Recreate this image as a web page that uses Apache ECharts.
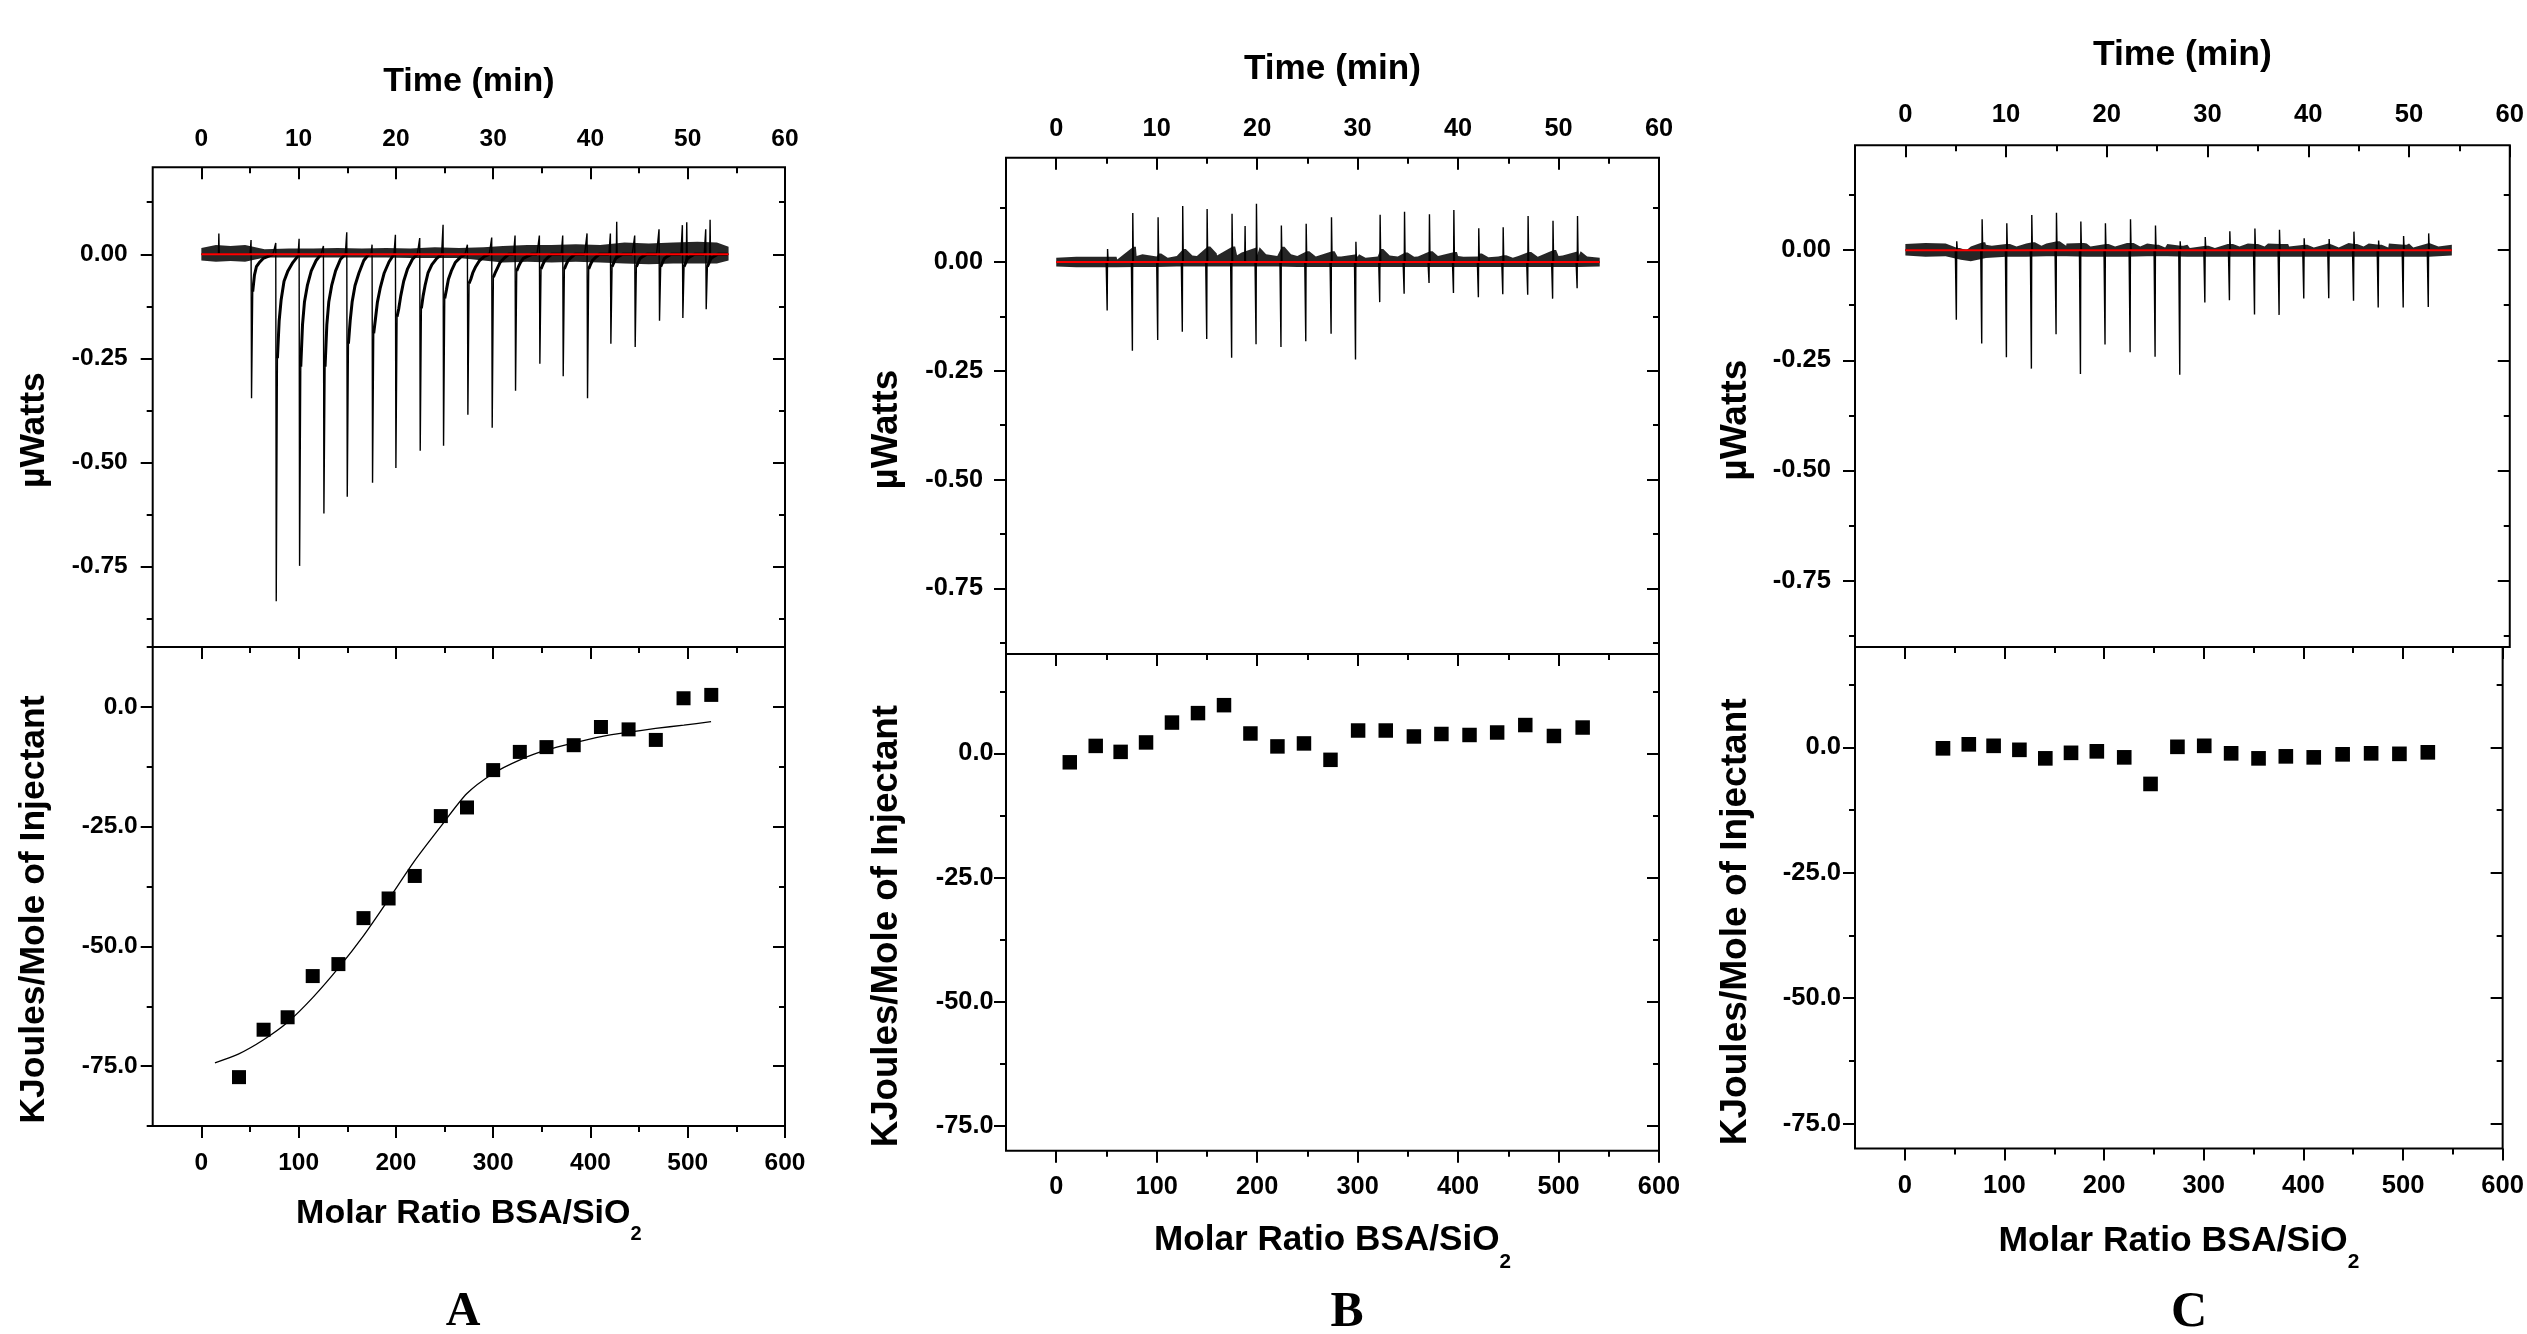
<!DOCTYPE html>
<html><head><meta charset="utf-8">
<script src="https://cdn.jsdelivr.net/npm/echarts@6/dist/echarts.min.js"></script>
<style>html,body{margin:0;padding:0;background:#fff}#c{width:2527px;height:1334px}</style>
</head><body><div id="c"></div>
<script>
// ---------------- tick labels ----------------
const timeTicks = [0, 10, 20, 30, 40, 50, 60];
const timeMinorTicks = [5, 15, 25, 35, 45, 55];
const ratioTicks = [0, 100, 200, 300, 400, 500, 600];
const ratioMinorTicks = [50, 150, 250, 350, 450, 550];
const powerTicks = [-0.75, -0.5, -0.25, 0];
const powerMinorTicks = [-0.875, -0.625, -0.375, -0.125, 0.125];
const heatTicks = [-75, -50, -25, 0];
const heatMinorTicks = [-87.5, -62.5, -37.5, -12.5, 12.5];

// ---------------- panel A : raw thermogram ----------------
const injTimeA = [5.16, 7.7, 10.1, 12.6, 15.0, 17.6, 20.0, 22.5, 24.9, 27.4, 29.9, 32.3, 34.8, 37.2, 39.7, 42.1, 44.6, 47.1, 49.5, 51.9];
const peakMinA = [-0.346, -0.834, -0.749, -0.623, -0.583, -0.549, -0.514, -0.472, -0.460, -0.386, -0.417, -0.328, -0.263, -0.293, -0.346, -0.215, -0.223, -0.160, -0.153, -0.132];
const preBlipA = [0.034, 0.027, 0.037, 0.02, 0.053, 0.023, 0.047, 0.039, 0.071, 0.023, 0.04, 0.045, 0.045, 0.045, 0.05, 0.05, 0.045, 0.06, 0.07, 0.06];
const tailOffsetA = [0.12, 0.3, 0.5, 0.8, 1.2, 1.7, 2.2];
const tailA = [
  [-0.09, -0.05, -0.03, -0.02, -0.01, -0.005, 0],
  [-0.25, -0.16, -0.11, -0.065, -0.04, -0.02, -0.005],
  [-0.27, -0.17, -0.115, -0.075, -0.04, -0.015, 0],
  [-0.27, -0.17, -0.115, -0.075, -0.04, -0.012, 0],
  [-0.215, -0.16, -0.115, -0.075, -0.045, -0.015, 0],
  [-0.19, -0.155, -0.115, -0.08, -0.045, -0.018, 0],
  [-0.15, -0.13, -0.1, -0.065, -0.035, -0.012, 0],
  [-0.13, -0.1, -0.075, -0.045, -0.025, -0.01, 0],
  [-0.106, -0.085, -0.06, -0.04, -0.02, -0.008, 0],
  [-0.07, -0.06, -0.045, -0.03, -0.015, -0.005, 0],
  [-0.055, -0.045, -0.035, -0.02, -0.01, 0, 0],
  [-0.04, -0.03, -0.02, -0.01, -0.005, 0, 0],
  [-0.035, -0.025, -0.015, -0.008, 0, 0, 0],
  [-0.035, -0.025, -0.015, -0.008, 0, 0, 0],
  [-0.035, -0.025, -0.015, -0.008, 0, 0, 0],
  [-0.03, -0.02, -0.01, -0.005, 0, 0, 0],
  [-0.03, -0.02, -0.01, -0.005, 0, 0, 0],
  [-0.03, -0.02, -0.01, -0.005, 0, 0, 0],
  [-0.03, -0.02, -0.01, -0.005, 0, 0, 0],
  [-0.03, -0.02, -0.01, -0.005, 0, 0, 0]
];
const extraPeaksA = [[1.8, 0.05], [42.7, 0.078], [49.9, 0.077], [52.3, 0.083]];
const traceEndA = 54.2;
const noiseTimeA = [0, 1.5, 3, 4.5, 6.5, 9, 11.5, 14, 16.5, 19, 21.5, 24, 26.5, 29, 31, 33.5, 36, 38.5, 41, 43.5, 46, 48.5, 51, 53, 54.2];
const noiseHiA = [0.015, 0.022, 0.02, 0.022, 0.012, 0.014, 0.014, 0.015, 0.014, 0.015, 0.014, 0.017, 0.015, 0.017, 0.02, 0.022, 0.022, 0.024, 0.022, 0.028, 0.026, 0.028, 0.03, 0.028, 0.018];
const noiseLoA = [-0.015, -0.018, -0.016, -0.018, -0.008, -0.008, -0.008, -0.008, -0.008, -0.008, -0.009, -0.009, -0.009, -0.015, -0.02, -0.018, -0.02, -0.018, -0.02, -0.022, -0.024, -0.022, -0.022, -0.022, -0.015];

// ---------------- panel B : raw thermogram ----------------
const injTimeB = [5.07, 7.58, 10.1, 12.55, 14.98, 17.46, 19.89, 22.37, 24.84, 27.36, 29.79, 32.2, 34.63, 37.11, 39.54, 42.02, 44.45, 46.93, 49.41, 51.85];
const peakMinB = [-0.111, -0.204, -0.179, -0.160, -0.177, -0.220, -0.189, -0.195, -0.182, -0.165, -0.224, -0.092, -0.073, -0.048, -0.071, -0.081, -0.074, -0.075, -0.084, -0.060];
const peakMaxB = [0.03, 0.113, 0.103, 0.129, 0.122, 0.111, 0.134, 0.084, 0.088, 0.103, 0.047, 0.109, 0.116, 0.110, 0.120, 0.078, 0.080, 0.106, 0.095, 0.106];
const humpB = [0.012, 0.035, 0.02, 0.03, 0.036, 0.036, 0.034, 0.035, 0.025, 0.025, 0.018, 0.03, 0.022, 0.025, 0.023, 0.02, 0.016, 0.023, 0.028, 0.025];
const humpTailB = [0.006, 0.018, 0.01, 0.015, 0.02, 0.022, 0.018, 0.018, 0.013, 0.013, 0.01, 0.015, 0.012, 0.013, 0.012, 0.011, 0.01, 0.012, 0.015, 0.013];
const extraPeaksB = [[18.8, 0.083]];
const traceEndB = 54.1;
const noiseTimeB = [0, 2, 4, 6, 8, 10, 12, 14, 16, 18, 20, 22, 24, 26, 28, 30, 32, 34, 36, 38, 40, 42, 44, 46, 48, 50, 52, 54.1];
const noiseHiB = [0.01, 0.012, 0.012, 0.012, 0.014, 0.013, 0.014, 0.014, 0.015, 0.016, 0.016, 0.014, 0.014, 0.013, 0.013, 0.012, 0.013, 0.013, 0.013, 0.014, 0.014, 0.013, 0.013, 0.014, 0.013, 0.014, 0.014, 0.01];
const noiseLoB = [-0.01, -0.012, -0.012, -0.012, -0.011, -0.011, -0.01, -0.01, -0.01, -0.01, -0.01, -0.01, -0.011, -0.011, -0.011, -0.011, -0.011, -0.011, -0.011, -0.011, -0.011, -0.011, -0.011, -0.011, -0.011, -0.011, -0.011, -0.01];

// ---------------- panel C : raw thermogram ----------------
const injTimeC = [5.06, 7.58, 10.03, 12.51, 14.96, 17.38, 19.82, 22.31, 24.79, 27.24, 29.73, 32.17, 34.66, 37.1, 39.55, 42.03, 44.49, 46.94, 49.42, 51.91];
const peakMinC = [-0.158, -0.212, -0.243, -0.269, -0.191, -0.281, -0.214, -0.232, -0.242, -0.283, -0.119, -0.114, -0.146, -0.147, -0.110, -0.109, -0.115, -0.130, -0.130, -0.129];
const peakMaxC = [0.02, 0.070, 0.061, 0.080, 0.085, 0.065, 0.061, 0.070, 0.056, 0.02, 0.03, 0.043, 0.049, 0.046, 0.027, 0.025, 0.042, 0.022, 0.032, 0.038];
const humpC = [0.005, 0.018, 0.014, 0.018, 0.02, 0.016, 0.014, 0.016, 0.012, 0.01, 0.01, 0.014, 0.014, 0.014, 0.012, 0.012, 0.014, 0.012, 0.012, 0.014];
const humpTailC = [0, 0.01, 0.008, 0.01, 0.01, 0.008, 0.008, 0.008, 0.006, 0.005, 0.005, 0.008, 0.008, 0.008, 0.006, 0.006, 0.008, 0.006, 0.006, 0.008];
const extraPeaksC = [];
const traceEndC = 54.25;
const noiseTimeC = [0, 2, 4, 5.5, 6.5, 8, 10, 12, 14, 16, 18, 20, 22, 24, 26, 28, 30, 32, 34, 36, 38, 40, 42, 44, 46, 48, 50, 52, 54.25];
const noiseHiC = [0.014, 0.016, 0.015, 0.008, 0.008, 0.012, 0.014, 0.015, 0.015, 0.015, 0.015, 0.015, 0.016, 0.015, 0.014, 0.012, 0.012, 0.014, 0.015, 0.015, 0.014, 0.014, 0.015, 0.016, 0.015, 0.015, 0.015, 0.016, 0.012];
const noiseLoC = [-0.012, -0.015, -0.014, -0.022, -0.025, -0.018, -0.015, -0.015, -0.014, -0.014, -0.015, -0.015, -0.015, -0.014, -0.014, -0.015, -0.015, -0.015, -0.015, -0.015, -0.015, -0.015, -0.015, -0.015, -0.015, -0.015, -0.015, -0.015, -0.012];

// ---------------- integrated heats ----------------
const ratioA = [38.7, 64.0, 88.7, 114.5, 140.9, 166.7, 192.5, 219.4, 246.2, 273.1, 300.0, 327.4, 354.8, 382.8, 410.8, 439.2, 467.2, 495.7, 524.2];
const heatA = [-77.3, -67.4, -64.8, -56.2, -53.7, -44.1, -40.0, -35.3, -22.8, -21.0, -13.2, -9.4, -8.4, -8.0, -4.2, -4.7, -6.9, 1.8, 2.5];
const fitRatioA = [14, 38, 64, 89, 114.5, 141, 167, 192.5, 219, 246, 273, 300, 327, 355, 383, 411, 439, 467, 496, 524];
const fitHeatA = [-74.3, -72.5, -69.5, -65.8, -60.7, -54.5, -47.7, -40.2, -32.2, -25.0, -18.1, -13.9, -11.1, -9.0, -7.5, -6.2, -5.3, -4.5, -3.8, -3.1];
const ratioB = [13.5, 39.3, 64.1, 89.4, 115.2, 141.1, 167.0, 193.3, 220.2, 246.6, 273.0, 300.5, 328.0, 356.0, 383.4, 411.4, 438.9, 466.9, 495.4, 524.0];
const heatB = [-1.8, 1.5, 0.3, 2.2, 6.2, 8.1, 9.7, 4.0, 1.4, 2.0, -1.3, 4.6, 4.6, 3.4, 3.9, 3.7, 4.2, 5.7, 3.5, 5.2];
const ratioC = [38.3, 64.2, 89.1, 115.0, 141.0, 166.8, 192.7, 220.2, 246.6, 273.6, 300.5, 327.5, 355.0, 382.4, 410.4, 439.4, 468.0, 496.4, 524.9];
const heatC = [-0.2, 0.6, 0.3, -0.5, -2.2, -1.1, -0.8, -2.0, -7.3, 0.1, 0.3, -1.2, -2.2, -1.8, -2.0, -1.4, -1.2, -1.3, -1.0];

// ---------------- build series data from the arrays ----------------
const byTime = (a, b) => a[0] - b[0];
const zip = (a, b) => a.map((v, i) => [v, b[i]]);
function spikesA() {
  const pts = [[0, 0]];
  injTimeA.forEach((t, i) => {
    pts.push([t - 0.15, 0], [t - 0.05, preBlipA[i]], [t, peakMinA[i]]);
    tailOffsetA.forEach((d, k) => pts.push([t + d, tailA[i][k]]));
  });
  extraPeaksA.forEach(p => pts.push([p[0] - 0.04, 0], p, [p[0] + 0.04, 0]));
  pts.push([traceEndA, 0]);
  return pts.sort(byTime);
}
function tailsA() {
  const pts = [];
  injTimeA.forEach((t, i) => {
    tailOffsetA.forEach((d, k) => pts.push([t + d, tailA[i][k]]));
    pts.push([t + 2.25, null]);
  });
  return pts;
}
function spikesBC(inj, mn, mx, extra, end) {
  const pts = [[0, 0]];
  inj.forEach((t, i) => pts.push([t - 0.1, 0], [t, mn[i]], [t + 0.04, mx[i]], [t + 0.1, 0]));
  extra.forEach(p => pts.push([p[0] - 0.04, 0], p, [p[0] + 0.04, 0]));
  pts.push([end, 0]);
  return pts.sort(byTime);
}
function upperBand(nt, nh, inj, hump, humpTail) {
  const pts = zip(nt, nh);
  if (inj) inj.forEach((t, i) => pts.push([t + 0.1, hump[i]], [t + 0.35, hump[i]], [t + 1.0, humpTail[i]]));
  return pts.sort(byTime);
}

const FONT = '"Liberation Sans", Arial, Helvetica, sans-serif';
const SERIF = '"Liberation Serif", "Times New Roman", serif';

const panels = [
  { L: {left: 152.7, width: 632.3, upTop: 167.3, upH: 479.7, loH: 479.0, upY: [-0.944, 0.209], loY: [-87.5, 12.5], s: 1.0,
        mUp: 25, mLo: 15, mTop: 15.3, mBot: 24.5, gTop: 68.8, gBot: 70.7, gY: 100, letter: 'A', lx: 463, ly: 1313},
    trace: spikesA(), tails: tailsA(), bandHi: upperBand(noiseTimeA, noiseHiA), bandLo: zip(noiseTimeA, noiseLoA), end: traceEndA,
    pts: zip(ratioA, heatA), fit: zip(fitRatioA, fitHeatA) },
  { L: {left: 1006, width: 653, upTop: 157.7, upH: 496.3, loH: 496.8, upY: [-0.901, 0.240], loY: [-80, 20], s: 1.034,
        mUp: 23, mLo: 12.5, mTop: 16.6, mBot: 23.6, gTop: 70.4, gBot: 72.1, gY: 101, letter: 'B', lx: 1347, ly: 1313},
    trace: spikesBC(injTimeB, peakMinB, peakMaxB, extraPeaksB, traceEndB), tails: null,
    bandHi: upperBand(noiseTimeB, noiseHiB, injTimeB, humpB, humpTailB), bandLo: zip(noiseTimeB, noiseLoB), end: traceEndB,
    pts: zip(ratioB, heatB), fit: null },
  { L: {left: 1855, width: 661.4, upTop: 145.3, upH: 501.7, loH: 501.6, upY: [-0.901, 0.238], loY: [-80, 20], s: 1.045,
        mUp: 24, mLo: 14, mTop: 17, mBot: 24.4, gTop: 72, gBot: 74.2, gY: 101, letter: 'C', lx: 2189, ly: 1313},
    trace: spikesBC(injTimeC, peakMinC, peakMaxC, extraPeaksC, traceEndC), tails: null,
    bandHi: upperBand(noiseTimeC, noiseHiC, injTimeC, humpC, humpTailC), bandLo: zip(noiseTimeC, noiseLoC), end: traceEndC,
    pts: zip(ratioC, heatC), fit: null }
];

const option = {animation: false, backgroundColor: '#ffffff', grid: [], xAxis: [], yAxis: [], series: [], graphic: []};
const base = {type: 'value', axisLine: {show: false, onZero: false}, splitLine: {show: false}, nameMoveOverlap: false};
function ax(arr, o) { arr.push(Object.assign({}, base, o)); return arr.length - 1; }
function tick(vals, inside, len) { return {show: true, customValues: vals, inside: inside, length: len, lineStyle: {color: '#000', width: 2}}; }

panels.forEach(P => {
  const L = P.L, s = L.s, fs = 24.5 * s;
  const lbl = (vals, margin, fmt) => ({show: true, customValues: vals, margin: margin, color: '#000', fontFamily: FONT, fontWeight: 'bold', fontSize: fs, formatter: fmt});
  const gU = option.grid.length;
  option.grid.push({left: L.left, top: L.upTop, width: L.width, height: L.upH, show: true, borderColor: '#000', borderWidth: 2, backgroundColor: 'rgba(0,0,0,0)'});
  const gL = gU + 1;
  option.grid.push({left: L.left, top: L.upTop + L.upH, width: L.width, height: L.loH, show: true, borderColor: '#000', borderWidth: 2, backgroundColor: 'rgba(0,0,0,0)'});
  const yName = (txt) => ({name: txt, nameLocation: 'middle', nameRotate: 90, nameGap: L.gY,
      nameTextStyle: {color: '#000', fontFamily: FONT, fontWeight: 'bold', fontSize: 35.5 * s, padding: [0, 46 * s, 0, 0]}});

  // ---- upper grid axes
  const xU = ax(option.xAxis, {gridIndex: gU, position: 'top', min: -5, max: 60, axisTick: tick(timeTicks, true, 12),
      axisLabel: lbl(timeTicks, L.mTop, v => String(v)),
      name: 'Time (min)', nameLocation: 'middle', nameGap: L.gTop,
      nameTextStyle: {color: '#000', fontFamily: FONT, fontWeight: 'bold', fontSize: 34 * s}});
  ax(option.xAxis, {gridIndex: gU, position: 'top', min: -5, max: 60, axisTick: tick(timeMinorTicks, true, 6), axisLabel: {show: false}});
  const yU = ax(option.yAxis, Object.assign({gridIndex: gU, position: 'left', min: L.upY[0], max: L.upY[1], axisTick: tick(powerTicks, false, 12),
      axisLabel: lbl(powerTicks, L.mUp, v => v.toFixed(2))}, yName('µWatts')));
  ax(option.yAxis, {gridIndex: gU, position: 'left', min: L.upY[0], max: L.upY[1], axisTick: tick(powerMinorTicks, false, 6), axisLabel: {show: false}});
  ax(option.yAxis, {gridIndex: gU, position: 'right', min: L.upY[0], max: L.upY[1], axisTick: tick(powerTicks, true, 12), axisLabel: {show: false}});
  ax(option.yAxis, {gridIndex: gU, position: 'right', min: L.upY[0], max: L.upY[1], axisTick: tick(powerMinorTicks, true, 6), axisLabel: {show: false}});

  // ---- lower grid axes
  const heatMinor = heatMinorTicks.filter(v => v >= L.loY[0] && v <= L.loY[1]);
  ax(option.xAxis, {gridIndex: gL, position: 'top', min: -50, max: 600, axisTick: tick(ratioTicks, true, 12), axisLabel: {show: false}});
  ax(option.xAxis, {gridIndex: gL, position: 'top', min: -50, max: 600, axisTick: tick(ratioMinorTicks, true, 6), axisLabel: {show: false}});
  const xL = ax(option.xAxis, {gridIndex: gL, position: 'bottom', min: -50, max: 600, axisTick: tick(ratioTicks, false, 12),
      axisLabel: lbl(ratioTicks, L.mBot, v => String(v)),
      name: '{a|Molar Ratio BSA/SiO}{s|2}', nameLocation: 'middle', nameGap: L.gBot,
      nameTextStyle: {color: '#000', rich: {
        a: {color: '#000', fontFamily: FONT, fontWeight: 'bold', fontSize: 34 * s, lineHeight: 40 * s, verticalAlign: 'top'},
        s: {color: '#000', fontFamily: FONT, fontWeight: 'bold', fontSize: 20 * s, lineHeight: 20 * s, padding: [28 * s, 0, 0, 0], verticalAlign: 'top'}}}});
  ax(option.xAxis, {gridIndex: gL, position: 'bottom', min: -50, max: 600, axisTick: tick(ratioMinorTicks, false, 6), axisLabel: {show: false}});
  const yL = ax(option.yAxis, Object.assign({gridIndex: gL, position: 'left', min: L.loY[0], max: L.loY[1], axisTick: tick(heatTicks, false, 12),
      axisLabel: lbl(heatTicks, L.mLo, v => v.toFixed(1))}, yName('KJoules/Mole of Injectant')));
  ax(option.yAxis, {gridIndex: gL, position: 'left', min: L.loY[0], max: L.loY[1], axisTick: tick(heatMinor, false, 6), axisLabel: {show: false}});
  ax(option.yAxis, {gridIndex: gL, position: 'right', min: L.loY[0], max: L.loY[1], axisTick: tick(heatTicks, true, 12), axisLabel: {show: false}});
  ax(option.yAxis, {gridIndex: gL, position: 'right', min: L.loY[0], max: L.loY[1], axisTick: tick(heatMinor, true, 6), axisLabel: {show: false}});

  // ---- upper series
  const band = (data) => ({type: 'line', xAxisIndex: xU, yAxisIndex: yU, data: data, showSymbol: false, silent: true,
      lineStyle: {width: 0}, areaStyle: {color: '#000', opacity: 0.85, origin: 'auto'}, z: 2});
  option.series.push(band(P.bandHi), band(P.bandLo));
  option.series.push({type: 'line', xAxisIndex: xU, yAxisIndex: yU, data: P.trace, showSymbol: false, silent: true,
      lineStyle: {color: '#000', width: 1.4}, z: 3});
  if (P.tails) option.series.push({type: 'line', xAxisIndex: xU, yAxisIndex: yU, data: P.tails, showSymbol: false, silent: true,
      connectNulls: false, lineStyle: {color: '#000', width: 3}, z: 3});
  option.series.push({type: 'line', xAxisIndex: xU, yAxisIndex: yU, data: [[0, 0], [P.end, 0]], showSymbol: false, silent: true,
      lineStyle: {color: '#ff0000', width: 2}, z: 4});

  // ---- lower series
  option.series.push({type: 'scatter', xAxisIndex: xL, yAxisIndex: yL, data: P.pts, symbol: 'rect', symbolSize: 14 * s,
      itemStyle: {color: '#000', opacity: 1}, z: 4});
  if (P.fit) option.series.push({type: 'line', xAxisIndex: xL, yAxisIndex: yL, data: P.fit, showSymbol: false, smooth: 0.25,
      lineStyle: {color: '#000', width: 1.3}, z: 3});

  option.graphic.push({type: 'text', x: L.lx, y: L.ly, style: {text: L.letter, fill: '#000', fontFamily: SERIF, fontWeight: 'bold',
      fontSize: 48 * s, textAlign: 'center', textVerticalAlign: 'middle'}});
});

const chart = echarts.init(document.getElementById('c'), null, {renderer: 'canvas', width: 2527, height: 1334});
chart.setOption(option);
</script>
</body></html>
